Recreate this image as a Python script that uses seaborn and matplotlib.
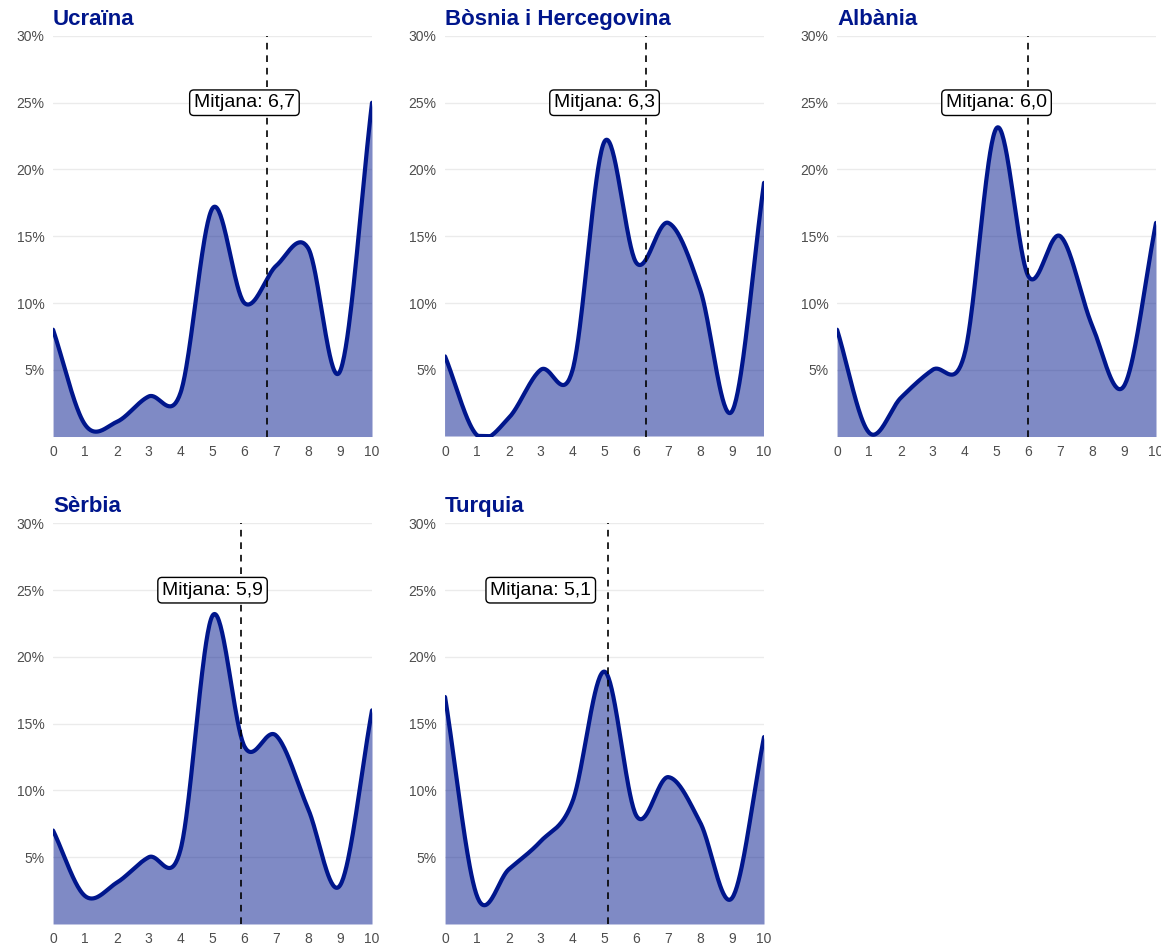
import numpy as np
import pandas as pd
import matplotlib
matplotlib.use("Agg")
import matplotlib.pyplot as plt
import seaborn as sns

# percentage of answers for each score 0..10
scores = list(range(11))
countries = ["Ucraïna", "Bòsnia i Hercegovina", "Albània", "Sèrbia", "Turquia"]
ucraina = [8.0, 0.9, 1.1, 3.0, 3.3, 17.1, 10.0, 12.8, 14.1, 4.9, 25.0]
bosnia = [6.0, 0.1, 1.4, 5.0, 5.0, 22.1, 13.0, 16.0, 11.0, 1.9, 19.0]
albania = [8.0, 0.3, 2.9, 5.0, 6.2, 23.1, 12.0, 15.0, 8.3, 3.8, 16.0]
serbia = [7.0, 2.1, 3.1, 5.0, 5.6, 23.1, 13.3, 14.1, 8.6, 2.9, 16.0]
turquia = [17.0, 2.1, 4.1, 6.2, 9.2, 18.9, 8.1, 11.0, 7.6, 1.95, 14.0]
means = [6.7, 6.3, 6.0, 5.9, 5.1]
label_x = [6.0, 5.0, 5.0, 5.0, 3.0]

series = [ucraina, bosnia, albania, serbia, turquia]

LINE = "#00168C"


def smooth(x, y, xs):
    # Catmull-Rom style curve through the points
    x = np.asarray(x, float)
    y = np.asarray(y, float)
    n = len(x)
    m = np.empty(n)
    m[1:-1] = (y[2:] - y[:-2]) / (x[2:] - x[:-2])
    m[0] = (y[1] - y[0]) / (x[1] - x[0])
    m[-1] = (y[-1] - y[-2]) / (x[-1] - x[-2])
    idx = np.clip(np.searchsorted(x, xs, side="right") - 1, 0, n - 2)
    h = x[idx + 1] - x[idx]
    t = (xs - x[idx]) / h
    h00 = 2 * t**3 - 3 * t**2 + 1
    h10 = t**3 - 2 * t**2 + t
    h01 = -2 * t**3 + 3 * t**2
    h11 = t**3 - t**2
    return h00 * y[idx] + h10 * h * m[idx] + h01 * y[idx + 1] + h11 * h * m[idx + 1]


sns.set_theme(style="white")
plt.rcParams["font.family"] = ["Liberation Sans", "DejaVu Sans"]

fig, axes = plt.subplots(2, 3, figsize=(11.61, 9.44), dpi=100)
plt.subplots_adjust(left=0.0457, right=0.9957, top=0.9619, bottom=0.0212,
                    wspace=0.229, hspace=0.217)
axes = axes.flatten()

xs = np.linspace(0, 10, 401)
for k, (name, vals) in enumerate(zip(countries, series)):
    ax = axes[k]
    ys = smooth(scores, vals, xs)
    ok = ys >= 0
    df = pd.DataFrame({"x": xs[ok], "y": ys[ok]})
    ax.fill_between(xs, 0, np.where(ok, ys, 0), where=ok, color=LINE,
                    alpha=0.5, lw=0, zorder=2)
    sns.lineplot(data=df, x="x", y="y", ax=ax, color=LINE, lw=3,
                 zorder=3, sort=False)
    ax.axvline(means[k], color="black", lw=1.2, ls=(0, (4, 3.5)), zorder=4)
    ax.text(label_x[k], 25, f"Mitjana: {means[k]:.1f}".replace(".", ","),
            ha="center", va="center", fontsize=14, color="black", zorder=5,
            bbox=dict(boxstyle="round,pad=0.22", fc="white", ec="black", lw=1))

    ax.set_xlim(0, 10)
    ax.set_ylim(0, 30)
    ax.set_xticks(scores)
    ax.set_yticks([5, 10, 15, 20, 25, 30])
    ax.set_yticklabels([f"{v}%" for v in [5, 10, 15, 20, 25, 30]])
    ax.tick_params(axis="both", length=0, labelsize=10, colors="#4D4D4D", pad=6)
    ax.grid(axis="y", color="#EBEBEB", lw=1, zorder=0)
    ax.grid(axis="x", visible=False)
    ax.set_axisbelow(True)
    for s in ax.spines.values():
        s.set_visible(False)
    ax.set_xlabel("")
    ax.set_ylabel("")
    ax.set_title(name, loc="left", fontsize=16, fontweight="bold",
                 color="#00168C", pad=8)

axes[5].axis("off")

plt.savefig("out.png", dpi=100)
